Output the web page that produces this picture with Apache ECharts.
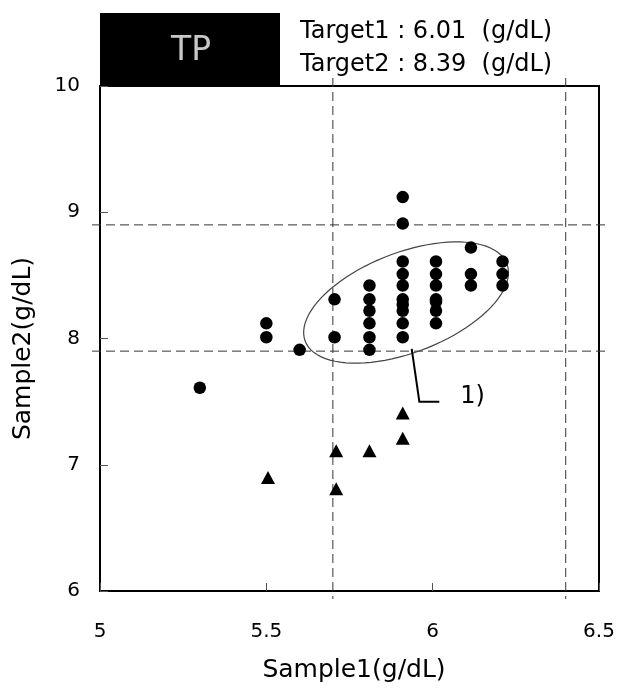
<!DOCTYPE html>
<html>
<head>
<meta charset="utf-8">
<title>TP</title>
<script src="https://cdn.jsdelivr.net/npm/echarts@6/dist/echarts.min.js"></script>
<style>html,body{margin:0;background:#fff}</style>
</head>
<body>
<div id="chart" style="width:624px;height:689px"></div>
<script>
// sample1, sample2 pairs (g/dL)
var circles = [
    [5.30, 7.61],
    [5.50, 8.01], [5.50, 8.12],
    [5.60, 7.91],
    [5.705, 8.01], [5.705, 8.31],
    [5.81, 7.91], [5.81, 8.01], [5.81, 8.12], [5.81, 8.22], [5.81, 8.31], [5.81, 8.42],
    [5.91, 8.01], [5.91, 8.12], [5.91, 8.22], [5.91, 8.27], [5.91, 8.31], [5.91, 8.42],
    [5.91, 8.51], [5.91, 8.61], [5.91, 8.91], [5.91, 9.12],
    [6.01, 8.12], [6.01, 8.22], [6.01, 8.29], [6.01, 8.31], [6.01, 8.42], [6.01, 8.51], [6.01, 8.61],
    [6.115, 8.42], [6.115, 8.51], [6.115, 8.72],
    [6.21, 8.42], [6.21, 8.51], [6.21, 8.61]
];
var triangles = [
    [5.505, 6.90],
    [5.71, 6.81], [5.71, 7.11],
    [5.81, 7.11],
    [5.91, 7.21], [5.91, 7.41]
];
var targetX = [5.70, 6.40];
var targetY = [7.90, 8.90];
var ellipseCenter = [5.92, 8.285];
var leaderPath = [[5.937, 7.917], [5.96, 7.50], [6.02, 7.50]];
var leaderText = '1)';
var titleText = 'TP';
var targetLines = ['Target1 : 6.01  (g/dL)', 'Target2 : 8.39  (g/dL)'];

var FONT = 'DejaVu Sans';
var chart = echarts.init(document.getElementById('chart'));

// guide lines: [x, y, dir]  dir 0 = vertical, 1 = horizontal
var guides = targetX.map(function (v) { return [v, 6, 0]; })
    .concat(targetY.map(function (v) { return [5, v, 1]; }));

function renderGuide(params, api) {
    var cs = params.coordSys, ext = 8;
    var p = api.coord([api.value(0), api.value(1)]);
    var shape = api.value(2) === 0
        ? { x1: p[0], y1: cs.y - ext, x2: p[0], y2: cs.y + cs.height + ext }
        : { x1: cs.x - ext, y1: p[1], x2: cs.x + cs.width + ext, y2: p[1] };
    return { type: 'line', shape: shape, style: { stroke: '#333', lineWidth: 1, lineDash: [9, 5] } };
}

function renderEllipse(params, api) {
    var c = api.coord([api.value(0), api.value(1)]);
    var a = 108, b = 50, th = 21 * Math.PI / 180, pts = [];
    for (var i = 0; i < 90; i++) {
        var t = i / 90 * Math.PI * 2;
        var ex = a * Math.cos(t), ey = b * Math.sin(t);
        pts.push([c[0] + ex * Math.cos(th) - ey * Math.sin(th),
                  c[1] - (ex * Math.sin(th) + ey * Math.cos(th))]);
    }
    return { type: 'polygon', shape: { points: pts }, style: { fill: 'none', stroke: '#444', lineWidth: 1.2 } };
}

function renderLeader(params, api) {
    var pts = leaderPath.map(function (d) { return api.coord(d); });
    var end = pts[pts.length - 1];
    return {
        type: 'group',
        children: [
            { type: 'polyline', shape: { points: pts }, style: { fill: 'none', stroke: '#000', lineWidth: 2 } },
            { type: 'text', x: end[0] + 21, y: end[1] - 5,
              style: { text: leaderText, fill: '#000', font: '24px "' + FONT + '"', verticalAlign: 'middle' } }
        ]
    };
}

var option = {
    animation: false,
    grid: { left: 100, right: 25, top: 86, bottom: 98, show: true, borderColor: '#000', borderWidth: 2 },
    xAxis: {
        type: 'value', min: 5, max: 6.5, interval: 0.5,
        axisLine: { lineStyle: { color: '#000', width: 2 } },
        axisTick: { inside: true, length: 8, lineStyle: { color: '#555' } },
        axisLabel: { margin: 31, fontSize: 20, color: '#000', fontFamily: FONT },
        splitLine: { show: false },
        name: 'Sample1(g/dL)', nameLocation: 'middle', nameGap: 67,
        nameTextStyle: { fontSize: 25, color: '#000', fontFamily: FONT, padding: [0, 0, 0, 9] }
    },
    yAxis: {
        type: 'value', min: 6, max: 10, interval: 1,
        axisLine: { lineStyle: { color: '#000', width: 2 } },
        axisTick: { inside: true, length: 8, lineStyle: { color: '#555' } },
        axisLabel: { margin: 20, fontSize: 20, color: '#000', fontFamily: FONT },
        splitLine: { show: false },
        name: 'Sample2(g/dL)', nameLocation: 'middle', nameGap: 64,
        nameTextStyle: { fontSize: 25, color: '#000', fontFamily: FONT, padding: [0, 20, 0, 0] }
    },
    graphic: [
        { type: 'rect', left: 100, top: 13, shape: { width: 180, height: 73 }, style: { fill: '#000' }, z: 10 },
        { type: 'text', x: 191, y: 51, z: 11,
          style: { text: titleText, fill: '#c8c8c8', font: '33px "' + FONT + '"', align: 'center', verticalAlign: 'middle' } },
        { type: 'text', x: 300, y: 32,
          style: { text: targetLines[0], fill: '#000', font: '24px "' + FONT + '"', verticalAlign: 'middle' } },
        { type: 'text', x: 300, y: 65,
          style: { text: targetLines[1], fill: '#000', font: '24px "' + FONT + '"', verticalAlign: 'middle' } }
    ],
    series: [
        { type: 'custom', data: guides, renderItem: renderGuide, clip: false, silent: true, z: 1 },
        { type: 'custom', data: [ellipseCenter], renderItem: renderEllipse, silent: true, z: 2 },
        { type: 'custom', data: [[leaderPath[0][0], leaderPath[0][1]]], renderItem: renderLeader, clip: false, silent: true, z: 2 },
        { type: 'scatter', data: circles, symbol: 'circle', symbolSize: 12.5,
          itemStyle: { color: '#000', opacity: 1 }, z: 5 },
        { type: 'scatter', data: triangles, symbol: 'triangle', symbolSize: [14, 13],
          itemStyle: { color: '#000', opacity: 1 }, z: 5 }
    ]
};
chart.setOption(option);
</script>
</body>
</html>
